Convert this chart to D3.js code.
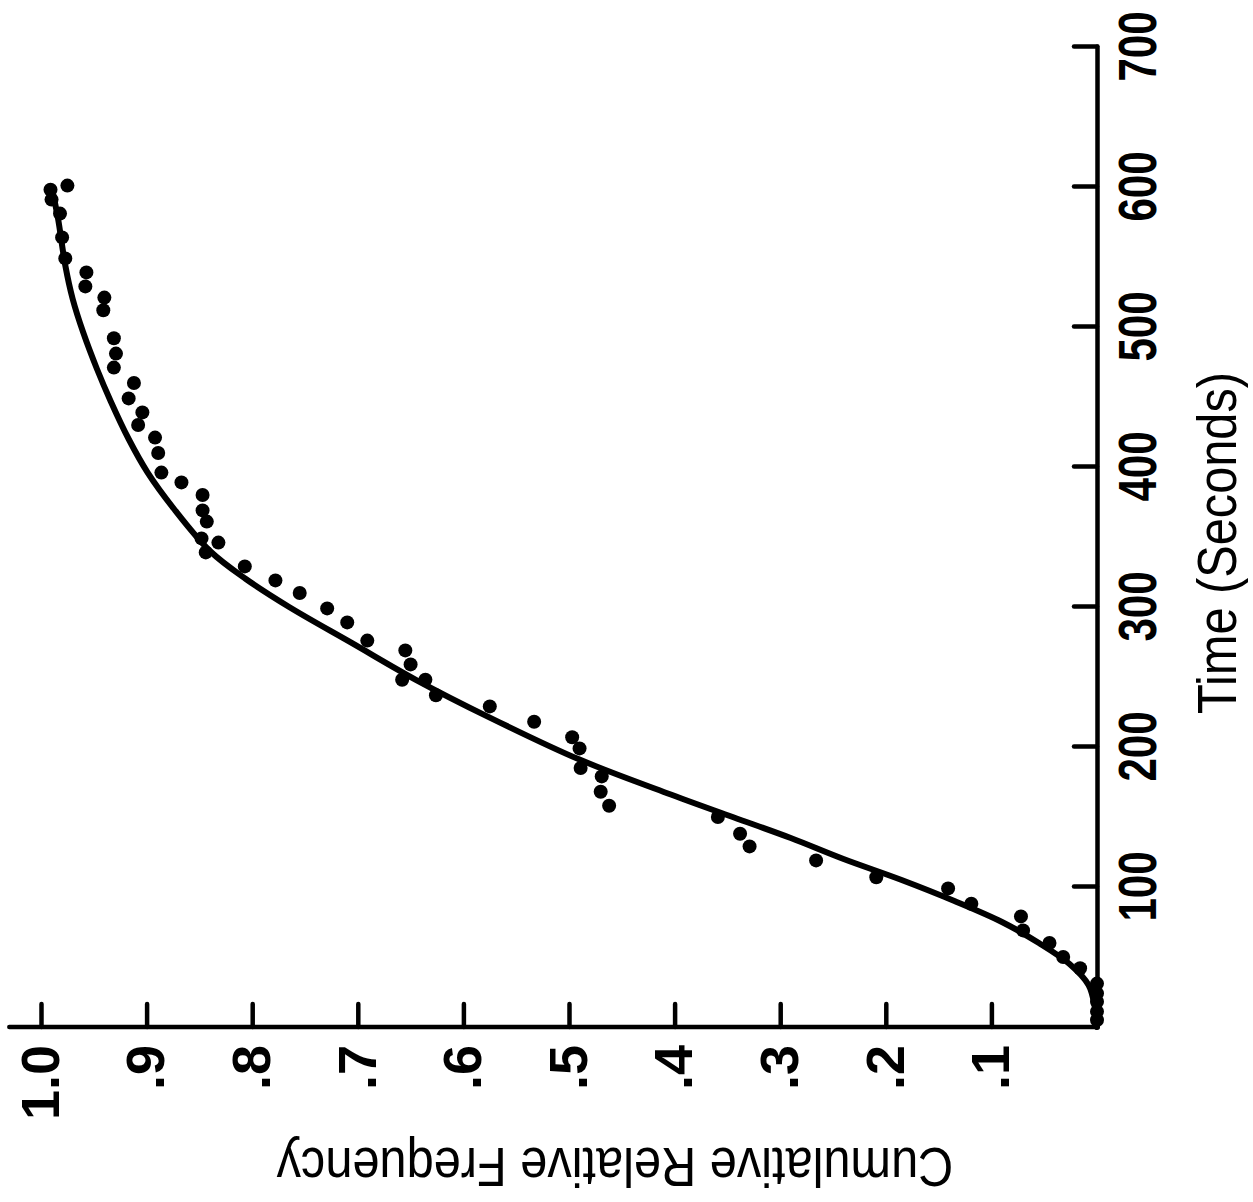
<!DOCTYPE html>
<html>
<head>
<meta charset="utf-8">
<script src="https://cdn.jsdelivr.net/npm/d3@7"></script>
<style>
  html, body { margin: 0; padding: 0; background: #fff; }
  svg { display: block; }
</style>
</head>
<body>
<svg id="chart" width="1253" height="1202"></svg>
<script>
// Axis ticks
const timeTicks = [100, 200, 300, 400, 500, 600, 700];
const freqTicks = [0.1, 0.2, 0.3, 0.4, 0.5, 0.6, 0.7, 0.8, 0.9, 1.0];

// Observed cumulative relative frequencies
const obsTime = [5, 11, 18, 24, 31, 42, 50, 60, 69, 79, 88, 99, 107, 119, 129,
  138, 150, 158, 168, 179, 185, 199, 207, 218, 229, 237, 248, 248, 259, 269,
  276, 289, 299, 310, 319, 329, 339, 346, 349, 361, 369, 380, 389, 396, 410,
  421, 430, 439, 449, 460, 471, 481, 492, 512, 521, 529, 539, 549, 564, 581,
  591, 598, 601];
const obsFreq = [0, 0, 0, 0, 0, 0.016, 0.032, 0.045, 0.07, 0.072, 0.119, 0.141, 0.209, 0.266, 0.329,
  0.338, 0.359, 0.462, 0.47, 0.469, 0.489, 0.49, 0.497, 0.533, 0.575, 0.626, 0.636, 0.658, 0.65, 0.655,
  0.691, 0.71, 0.729, 0.755, 0.778, 0.807, 0.844, 0.832, 0.848, 0.843, 0.847, 0.847, 0.867, 0.886, 0.889,
  0.892, 0.908, 0.904, 0.917, 0.912, 0.931, 0.929, 0.931, 0.941, 0.94, 0.958, 0.957, 0.977, 0.98, 0.982,
  0.99, 0.991, 0.975];

// Fitted distribution curve
const fitTime = [0, 14, 30, 45, 60, 75, 90, 105, 120, 135, 150, 167, 191, 221, 248,
  274, 300, 320, 340, 370, 396, 420, 447, 470, 496, 520, 544, 578, 600];
const fitFreq = [0, 0.002, 0.008, 0.026, 0.055, 0.09, 0.135, 0.185, 0.24, 0.29, 0.345, 0.407, 0.49, 0.575, 0.645,
  0.705, 0.765, 0.806, 0.84, 0.874, 0.899, 0.917, 0.934, 0.947, 0.96, 0.97, 0.977, 0.984, 0.99];

const plotW = 980;   // length of the time axis
const plotH = 1056;  // length of the frequency axis (0 to 1.0)
const origin = { x: 1097, y: 1027 }; // page position of (0 s, 0.0)

const font = '"Liberation Sans", Arial, sans-serif';

const svg = d3.select("#chart");

// The figure is laid out upright in its own frame, then turned a quarter turn
// counter-clockwise on the page (time runs upward, frequency runs leftward).
const g = svg.append("g")
  .attr("transform", `translate(${origin.x - plotH},${origin.y}) rotate(-90)`);

const x = d3.scaleLinear().domain([0, 700]).range([0, plotW]);
const y = d3.scaleLinear().domain([0, 1]).range([plotH, 0]);

// Time axis
const xAxis = d3.axisBottom(x)
  .tickValues(timeTicks)
  .tickSizeInner(-23)
  .tickSizeOuter(0)
  .tickPadding(21)
  .tickFormat(d3.format("d"));

const gx = g.append("g")
  .attr("transform", `translate(0,${plotH})`)
  .call(xAxis);

// Frequency axis
const yAxis = d3.axisLeft(y)
  .tickValues(freqTicks)
  .tickSizeInner(-23)
  .tickSizeOuter(0)
  .tickPadding(18)
  .tickFormat(d => d === 1 ? "1.0" : "." + Math.round(d * 10));

const gy = g.append("g").call(yAxis);
// the frequency axis line runs a little past 1.0
gy.select(".domain").attr("d", `M0,${y(0)}V${y(1.03)}`);

[gx, gy].forEach(a => {
  a.attr("font-family", font).attr("font-size", 54).attr("font-weight", "bold");
  a.select(".domain").attr("stroke", "#000").attr("stroke-width", 4.5).attr("stroke-linecap", "round");
  a.selectAll(".tick line").attr("stroke", "#000").attr("stroke-width", 4.5).attr("stroke-linecap", "round");
  a.selectAll(".tick text").attr("fill", "#000");
});
// condensed figures along the time axis
gx.selectAll(".tick text").attr("transform", "scale(0.78,1)");

// Fitted curve
const line = d3.line()
  .x((d, i) => x(fitTime[i]))
  .y((d, i) => y(fitFreq[i]))
  .curve(d3.curveCatmullRom.alpha(0.5));

g.append("path")
  .datum(fitTime)
  .attr("d", line)
  .attr("fill", "none")
  .attr("stroke", "#000")
  .attr("stroke-width", 6)
  .attr("stroke-linecap", "round")
  .attr("stroke-linejoin", "round");

// Observed points
g.append("g")
  .selectAll("circle")
  .data(obsTime)
  .join("circle")
  .attr("cx", (d, i) => x(obsTime[i]))
  .attr("cy", (d, i) => y(obsFreq[i]))
  .attr("r", 7)
  .attr("fill", "#000");

// Axis titles (condensed lettering)
g.append("g")
  .attr("transform", `translate(484,${plotH + 139})`)
  .append("text")
  .attr("transform", "scale(0.87,1)")
  .attr("text-anchor", "middle")
  .attr("font-family", font)
  .attr("font-size", 56)
  .attr("fill", "#000")
  .text("Time (Seconds)");

g.append("g")
  .attr("transform", `translate(-121,${plotH / 2 + 46}) rotate(-90)`)
  .append("text")
  .attr("transform", "scale(0.87,1)")
  .attr("text-anchor", "middle")
  .attr("font-family", font)
  .attr("font-size", 56)
  .attr("fill", "#000")
  .text("Cumulative Relative Frequency");
</script>
</body>
</html>
